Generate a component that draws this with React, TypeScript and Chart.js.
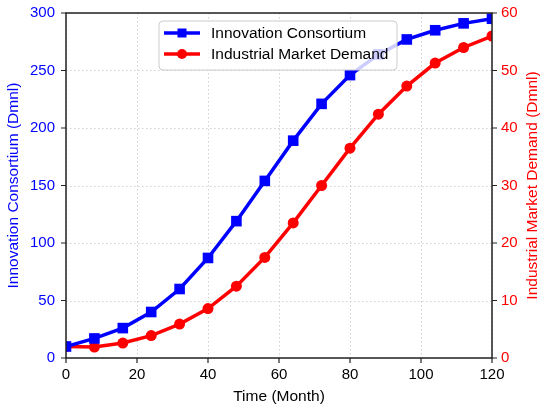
import React, { useEffect, useRef } from "react";
import { Chart, registerables } from "chart.js";

Chart.register(...registerables);

const months = [0, 8, 16, 24, 32, 40, 48, 56, 64, 72, 80, 88, 96, 104, 112, 120];
const innovationConsortium = [10, 17, 26, 40, 60, 87, 119, 154, 189, 221, 246, 264, 277, 285, 291, 295];
const industrialDemand = [2, 1.9, 2.6, 3.9, 5.9, 8.6, 12.5, 17.5, 23.5, 30, 36.5, 42.4, 47.3, 51.3, 54, 56];
const seriesLabels = ["Innovation Consortium", "Industrial Market Demand"];
const xTitle = "Time (Month)";
const yLeftTitle = "Innovation Consortium (Dmnl)";
const yRightTitle = "Industrial Market Demand (Dmnl)";

const FONT = "'Liberation Sans', Arial, sans-serif";
const BLUE = "#0000ff";
const RED = "#ff0000";

const gridPlugin = {
  id: "dottedGrid",
  beforeDatasetsDraw(chart: any) {
    const { ctx, chartArea } = chart;
    const { left, right, top, bottom } = chartArea;
    ctx.save();
    ctx.strokeStyle = "#d0d0d0";
    ctx.lineWidth = 1;
    ctx.setLineDash([1.5, 2.5]);
    ctx.beginPath();
    const xs = chart.scales.x;
    xs.ticks.forEach((t: any) => {
      const px = Math.round(xs.getPixelForValue(t.value)) + 0.5;
      ctx.moveTo(px, top);
      ctx.lineTo(px, bottom);
    });
    const ys = chart.scales.y;
    ys.ticks.forEach((t: any) => {
      const py = Math.round(ys.getPixelForValue(t.value)) + 0.5;
      ctx.moveTo(left, py);
      ctx.lineTo(right, py);
    });
    ctx.stroke();
    ctx.restore();
  },
};

const framePlugin = {
  id: "frameTicks",
  afterDraw(chart: any) {
    const { ctx, chartArea } = chart;
    const { left, right, top, bottom } = chartArea;
    ctx.save();
    ctx.strokeStyle = "#222";
    ctx.lineWidth = 1.5;
    ctx.strokeRect(left, top, right - left, bottom - top);
    const tl = 5;
    ctx.lineWidth = 1.2;
    ctx.beginPath();
    const xs = chart.scales.x;
    xs.ticks.forEach((t: any) => {
      const px = xs.getPixelForValue(t.value);
      ctx.moveTo(px, bottom);
      ctx.lineTo(px, bottom + tl);
    });
    const ys = chart.scales.y;
    ys.ticks.forEach((t: any) => {
      const py = ys.getPixelForValue(t.value);
      ctx.moveTo(left, py);
      ctx.lineTo(left - tl, py);
    });
    const y1 = chart.scales.y1;
    y1.ticks.forEach((t: any) => {
      const py = y1.getPixelForValue(t.value);
      ctx.moveTo(right, py);
      ctx.lineTo(right + tl, py);
    });
    ctx.stroke();
    ctx.fillStyle = RED;
    ctx.font = `15.5px ${FONT}`;
    ctx.textAlign = "center";
    ctx.textBaseline = "middle";
    ctx.translate(533, (top + bottom) / 2);
    ctx.rotate(-Math.PI / 2);
    ctx.fillText(yRightTitle, 0, 0);
    ctx.restore();
  },
};

const legendPlugin = {
  id: "customLegend",
  afterDatasetsDraw(chart: any) {
    const { ctx } = chart;
    const bx = 159, by = 21, bw = 238, bh = 49, r = 4;
    ctx.save();
    ctx.beginPath();
    ctx.moveTo(bx + r, by);
    ctx.arcTo(bx + bw, by, bx + bw, by + bh, r);
    ctx.arcTo(bx + bw, by + bh, bx, by + bh, r);
    ctx.arcTo(bx, by + bh, bx, by, r);
    ctx.arcTo(bx, by, bx + bw, by, r);
    ctx.closePath();
    ctx.fillStyle = "rgba(255,255,255,0.8)";
    ctx.fill();
    ctx.strokeStyle = "#cccccc";
    ctx.lineWidth = 1;
    ctx.stroke();
    chart.data.datasets.forEach((ds: any, i: number) => {
      const cy = 33 + i * 21;
      ctx.strokeStyle = ds.borderColor;
      ctx.lineWidth = 3.5;
      ctx.beginPath();
      ctx.moveTo(164, cy);
      ctx.lineTo(200, cy);
      ctx.stroke();
      ctx.fillStyle = ds.borderColor;
      if (ds.pointStyle === "rect") {
        ctx.fillRect(182 - 4.5, cy - 4.5, 9, 9);
      } else {
        ctx.beginPath();
        ctx.arc(182, cy, 5, 0, Math.PI * 2);
        ctx.fill();
      }
      ctx.fillStyle = "#000";
      ctx.font = `15.5px ${FONT}`;
      ctx.textAlign = "left";
      ctx.textBaseline = "middle";
      ctx.fillText(ds.label, 211, cy + 1);
    });
    ctx.restore();
  },
};

const noPadY = (w: number) => (s: any) => {
  s.width = w;
  s.paddingTop = 0;
  s.paddingBottom = 0;
};

export default function App() {
  const ref = useRef<HTMLCanvasElement>(null);
  useEffect(() => {
    if (!ref.current) return;
    const chart = new Chart(ref.current, {
      type: "line",
      data: {
        datasets: [
          {
            label: seriesLabels[0],
            data: months.map((m, i) => ({ x: m, y: innovationConsortium[i] })),
            borderColor: BLUE,
            backgroundColor: BLUE,
            borderWidth: 3.5,
            pointStyle: "rect",
            pointRadius: 7.5,
            pointBorderWidth: 0,
            yAxisID: "y",
            tension: 0,
          },
          {
            label: seriesLabels[1],
            data: months.map((m, i) => ({ x: m, y: industrialDemand[i] })),
            borderColor: RED,
            backgroundColor: RED,
            borderWidth: 3.5,
            pointStyle: "circle",
            pointRadius: 5.5,
            pointBorderWidth: 0,
            yAxisID: "y1",
            tension: 0,
          },
        ],
      },
      options: {
        animation: false,
        responsive: true,
        maintainAspectRatio: false,
        layout: { padding: { top: 13, left: 0, right: 0, bottom: 0 } },
        plugins: { legend: { display: false }, tooltip: { enabled: false } },
        scales: {
          x: {
            type: "linear",
            min: 0,
            max: 120,
            ticks: { stepSize: 20, color: "#000", padding: 8, font: { size: 15, family: FONT } },
            grid: { display: false, drawTicks: false },
            border: { display: false },
            title: {
              display: true,
              text: xTitle,
              color: "#000",
              font: { size: 15.5, family: FONT },
              padding: { top: 0, bottom: 5 },
            },
            afterFit: (s: any) => {
              s.height = 53;
              s.paddingLeft = 0;
              s.paddingRight = 0;
            },
          },
          y: {
            type: "linear",
            position: "left",
            min: 0,
            max: 300,
            ticks: { stepSize: 50, color: BLUE, padding: 11, font: { size: 15, family: FONT } },
            grid: { display: false, drawTicks: false },
            border: { display: false },
            title: {
              display: true,
              text: yLeftTitle,
              color: BLUE,
              font: { size: 15.5, family: FONT },
              padding: { top: 4, bottom: 0 },
            },
            afterFit: noPadY(66),
          },
          y1: {
            type: "linear",
            position: "right",
            min: 0,
            max: 60,
            ticks: { stepSize: 10, color: RED, padding: 9, font: { size: 15, family: FONT } },
            grid: { display: false, drawTicks: false },
            border: { display: false },
            afterFit: noPadY(58),
          },
        },
      },
      plugins: [gridPlugin, legendPlugin, framePlugin],
    });
    return () => chart.destroy();
  }, []);
  return (
    <div style={{ position: "fixed", left: 0, top: 0, width: 550, height: 411, background: "#fff" }}>
      <canvas ref={ref} />
    </div>
  );
}
